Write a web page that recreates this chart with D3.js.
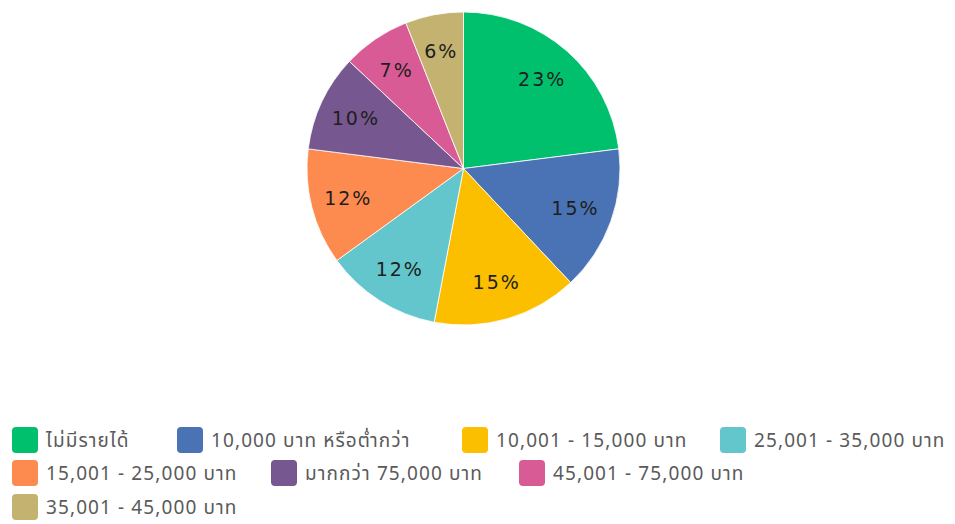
<!DOCTYPE html>
<html><head><meta charset="utf-8">
<script src="https://cdn.jsdelivr.net/npm/d3@7"></script>
<style>body{margin:0;background:#fff;} svg{display:block;}</style>
</head><body>
<svg id="c" width="955" height="524"></svg>
<script>
const categories = ["ไม่มีรายได้","10,000 บาท หรือต่ำกว่า","10,001 - 15,000 บาท","25,001 - 35,000 บาท","15,001 - 25,000 บาท","มากกว่า 75,000 บาท","45,001 - 75,000 บาท","35,001 - 45,000 บาท"];
const values = [23,15,15,12,12,10,7,6];
const colors = ["#00c06e","#4a73b5","#fbbf00","#62c6cc","#fd8a4e","#77578f","#d95b95","#c4b370"];

// legend layout (swatch left x, row center y)
const legendPos = [[12,440],[177,440],[462,440],[720,440],[12,473],[271,473],[519,473],[12,507]];

const svg = d3.select("#c");
const cx = 463.5, cy = 168.5, r = 156.5;
const pie = d3.pie().sort(null).value(d=>d)(values);
const arc = d3.arc().innerRadius(0).outerRadius(r);
const labelArc = d3.arc().innerRadius(r*0.76).outerRadius(r*0.76);
const g = svg.append("g").attr("transform",`translate(${cx},${cy})`);
g.selectAll("path").data(pie).join("path")
  .attr("d",arc).attr("fill",(d,i)=>colors[i])
  .attr("stroke","#ffffff").attr("stroke-width",0.8);
g.selectAll("text").data(pie).join("text")
  .attr("transform",d=>`translate(${labelArc.centroid(d)})`)
  .attr("text-anchor","middle").attr("dy","0.35em")
  .attr("font-family","'DejaVu Sans', sans-serif").attr("font-size",19)
  .attr("letter-spacing","2px")
  .attr("fill","#1e1e1e").text(d=>d.data+"%");

const lg = svg.append("g");
categories.forEach((c,i)=>{
  const [lx,ly] = legendPos[i];
  const item = lg.append("g").attr("transform",`translate(${lx},${ly})`);
  item.append("rect").attr("y",-13).attr("width",26).attr("height",26).attr("rx",4).attr("fill",colors[i]);
  item.append("text").attr("x",34).attr("y",0).attr("dy","0.35em")
    .attr("font-family","'Noto Sans','Noto Sans Thai','DejaVu Sans',sans-serif").attr("font-size",19)
    .attr("letter-spacing","1.1px")
    .attr("fill","#5a5a5a").text(c);
});
</script>
</body></html>
